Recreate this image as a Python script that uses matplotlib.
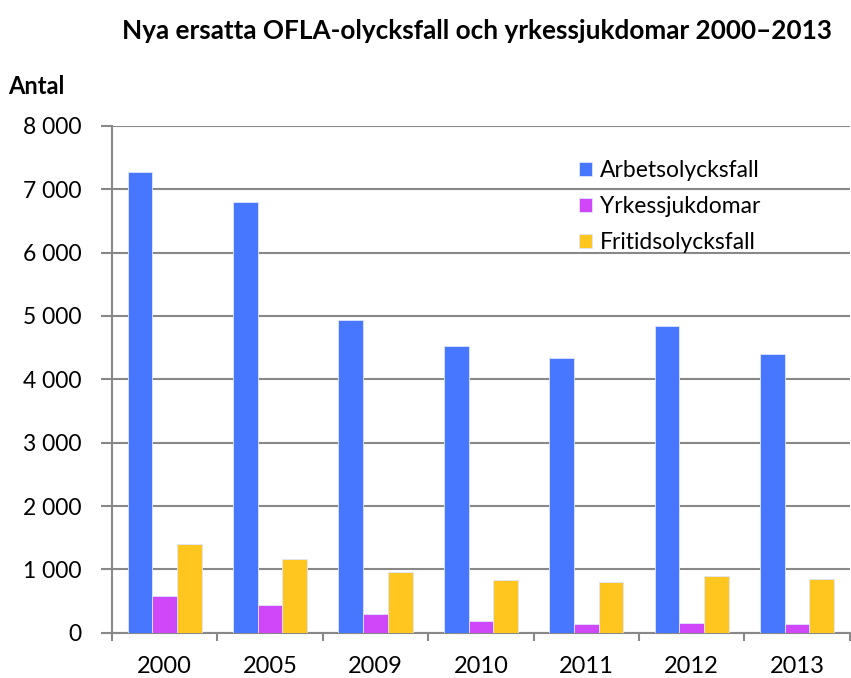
import matplotlib.pyplot as plt
import numpy as np
from matplotlib.ticker import FuncFormatter

years = ["2000", "2005", "2009", "2010", "2011", "2012", "2013"]
arbetsolycksfall = [7275, 6805, 4940, 4520, 4330, 4850, 4400]
yrkessjukdomar = [580, 440, 295, 180, 145, 150, 135]
fritidsolycksfall = [1400, 1165, 960, 840, 808, 890, 842]

series = [("Arbetsolycksfall", arbetsolycksfall, "#4877FF"),
          ("Yrkessjukdomar", yrkessjukdomar, "#D047FA"),
          ("Fritidsolycksfall", fritidsolycksfall, "#FFC61F")]

plt.rcParams['font.family'] = ['Lato', 'DejaVu Sans']

fig = plt.figure(figsize=(8.51, 6.78), dpi=100)
ax = fig.add_axes([0.1316, 0.0668, 0.867, 0.7474])

x = np.arange(len(years))
w = 0.235
for i, (name, vals, col) in enumerate(series):
    ax.bar(x + (i - 1) * w, vals, w, color=col, label=name,
           edgecolor="#dfe6ff", linewidth=0.6, zorder=3)

ax.set_xlim(-0.5, len(years) - 0.5)
ax.set_ylim(0, 8000)
ax.set_yticks(range(0, 8001, 1000))
ax.yaxis.set_major_formatter(FuncFormatter(lambda v, p: f"{int(v):,}".replace(",", " ")))
ax.set_xticks(x)
ax.set_xticklabels(years)
ax.set_xticks(np.arange(-0.5, len(years)), minor=True)
ax.tick_params(axis='x', which='major', length=0, labelsize=17, pad=17)
ax.tick_params(axis='x', which='minor', length=6, width=1.5, color="#888888")
ax.tick_params(axis='y', length=8, width=1.5, color="#888888", labelsize=16.5, pad=14)

ax.grid(axis='y', color="#888888", linewidth=1.5, zorder=0)
for s in ["top", "right"]:
    ax.spines[s].set_visible(False)
for s in ["left", "bottom"]:
    ax.spines[s].set_color("#888888")
    ax.spines[s].set_linewidth(1.5)

leg = ax.legend(loc="upper left", bbox_to_anchor=(0.633, 0.933), frameon=False,
                fontsize=16.5, handlelength=0.55, handleheight=0.55,
                handletextpad=0.35, labelspacing=0.66, borderpad=0, borderaxespad=0)

fig.text(0.561, 0.955, "Nya ersatta OFLA-olycksfall och yrkessjukdomar 2000\u20132013",
         ha="center", va="center", fontsize=18.8, fontweight="bold")
fig.text(0.009, 0.873, "Antal", ha="left", va="center", fontsize=17, fontweight="bold")

fig.savefig("out.png", dpi=100)
